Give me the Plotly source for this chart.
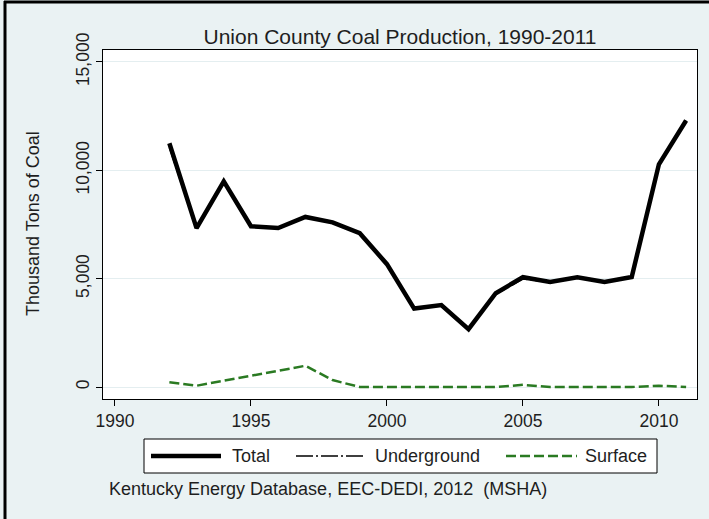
import plotly.graph_objects as go

years = list(range(1992, 2012))
total = [11250, 7330, 9490, 7420, 7340, 7850, 7600, 7100, 5670, 3620,
         3780, 2670, 4330, 5070, 4850, 5070, 4850, 5080, 10280, 12300]
underground = [11050, 7300, 9450, 7400, 7320, 7830, 7580, 7100, 5670, 3620,
               3780, 2670, 4280, 4980, 4850, 5070, 4850, 5080, 10240, 12300]
surface = [215, 60, 290, 510, 750, 980, 320, 0, 0, 0,
           0, 0, 0, 100, 0, 0, 0, 0, 60, 0]

x_ticks = [1990, 1995, 2000, 2005, 2010]
y_ticks = [0, 5000, 10000, 15000]
y_tick_labels = ["0", "5,000", "10,000", "15,000"]

title_text = "Union County Coal Production, 1990-2011"
y_title = "Thousand Tons of Coal"
source_text = "Kentucky Energy Database, EEC-DEDI, 2012  (MSHA)"
series_names = ["Total", "Underground", "Surface"]

BG = "#EAF2F3"
GREEN = "#2A7A22"
TXT = "#1E1E1E"
FONT = "Liberation Sans, Arial, Helvetica, sans-serif"
UG_DASH = "17px,3px,2px,3px"
SF_DASH = "10px,4px"

W, H = 709, 519
L, R, T, B = 103, 12, 50, 120
PW, PH = W - L - R, H - T - B


def px(xp):
    return (xp - L) / PW


def py(yp):
    return (H - B - yp) / PH


fig = go.Figure()
fig.add_trace(go.Scatter(x=years, y=total, mode="lines", name=series_names[0],
                         line=dict(color="black", width=4.5), showlegend=False))
fig.add_trace(go.Scatter(x=years, y=underground, mode="lines", name=series_names[1],
                         line=dict(color="black", width=1.5, dash=UG_DASH), showlegend=False))
fig.add_trace(go.Scatter(x=years, y=surface, mode="lines", name=series_names[2],
                         line=dict(color=GREEN, width=2.5, dash=SF_DASH), showlegend=False))

shapes = []
annotations = []

# legend box
shapes.append(dict(type="rect", xref="paper", yref="paper",
                   x0=px(144), x1=px(657), y0=py(473), y1=py(439),
                   fillcolor="white", line=dict(color="black", width=1), layer="above"))
ly = py(456)
legend_items = [
    (151, 221, dict(color="black", width=4.5), 230),
    (296, 366, dict(color="black", width=1.5, dash=UG_DASH), 373),
    (506, 577, dict(color=GREEN, width=2.5, dash=SF_DASH), 583),
]
for (x0, x1, ln, tx), name in zip(legend_items, series_names):
    shapes.append(dict(type="line", xref="paper", yref="paper",
                       x0=px(x0), x1=px(x1), y0=ly, y1=ly, line=ln, layer="above"))
    annotations.append(dict(text=name, xref="paper", yref="paper", x=px(tx), y=ly,
                            xanchor="left", yanchor="middle", showarrow=False,
                            font=dict(family=FONT, size=18, color=TXT)))

# outer frame (top and left visible)
shapes.append(dict(type="line", xref="paper", yref="paper",
                   x0=px(4), x1=px(720), y0=py(2), y1=py(2),
                   line=dict(color="black", width=3), layer="above"))
shapes.append(dict(type="line", xref="paper", yref="paper",
                   x0=px(5), x1=px(5), y0=py(530), y1=py(1),
                   line=dict(color="black", width=3), layer="above"))

# y title
annotations.append(dict(text=y_title, xref="paper", yref="paper", x=px(33), y=py(224),
                        xanchor="center", yanchor="middle", textangle=-90, showarrow=False,
                        font=dict(family=FONT, size=18, color=TXT)))
# source
annotations.append(dict(text=source_text, xref="paper", yref="paper", x=px(107), y=py(489),
                        xanchor="left", yanchor="middle", showarrow=False,
                        font=dict(family=FONT, size=18, color=TXT)))

fig.update_layout(
    width=W, height=H,
    margin=dict(l=L, r=R, t=T, b=B),
    paper_bgcolor=BG, plot_bgcolor="white",
    title=dict(text=title_text, x=0.5, xref="paper", y=1 - 37 / H, yref="container",
               xanchor="center", yanchor="middle",
               font=dict(family=FONT, size=21, color=TXT)),
    shapes=shapes, annotations=annotations,
    showlegend=False,
)
fig.update_xaxes(range=[1989.56, 2011.40], tickmode="array", tickvals=x_ticks,
                 ticks="outside", ticklen=6, tickcolor="black", tickwidth=1,
                 showline=True, linecolor="black", linewidth=1, mirror=True,
                 showgrid=False, zeroline=False, automargin=False,
                 tickfont=dict(family=FONT, size=17.5, color=TXT))
fig.update_yaxes(range=[-553, 15553], tickmode="array", tickvals=y_ticks, ticktext=y_tick_labels,
                 tickangle=-90,
                 ticks="outside", ticklen=6, tickcolor="black", tickwidth=1,
                 showline=True, linecolor="black", linewidth=1, mirror=True,
                 showgrid=True, gridcolor="#E4EEF0", gridwidth=1, zeroline=False, automargin=False,
                 tickfont=dict(family=FONT, size=17.5, color=TXT))

fig.write_html("out.html", config={"displayModeBar": False},
               post_script="document.body.style.margin='0px';document.body.style.background='%s';" % BG)
